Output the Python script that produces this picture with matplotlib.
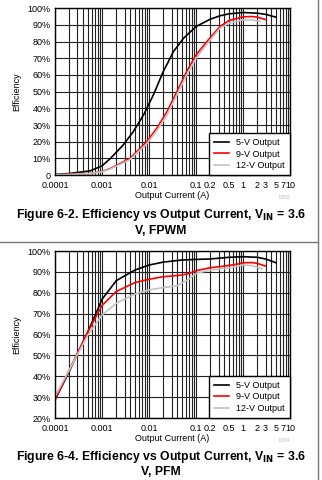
import matplotlib
matplotlib.use("Agg")
import matplotlib.pyplot as plt
from matplotlib.lines import Line2D
import numpy as np

plt.rcParams['font.family'] = ['Liberation Sans', 'DejaVu Sans']

# FPWM (Figure 6-2) - current in A, efficiency in %
fpwm_5v_i = [0.0001, 0.0002, 0.00056, 0.001, 0.0015, 0.0028, 0.0046, 0.0076, 0.0123, 0.02, 0.033,
             0.054, 0.1, 0.2, 0.32, 0.5, 1, 2, 3, 5]
fpwm_5v = [0.5, 1.0, 2.6, 5.6, 10, 18, 26, 36, 48, 62, 74, 82, 89, 93.4, 95.4, 96.6, 97.4, 97, 96.3, 94.6]
fpwm_9v_i = [0.0001, 0.0002, 0.00056, 0.001, 0.0015, 0.0039, 0.0089, 0.0145, 0.024, 0.039, 0.063,
             0.1, 0.17, 0.32, 0.5, 1, 1.5, 2, 3]
fpwm_9v = [0.3, 0.5, 1.0, 2.3, 4, 10, 20, 28, 38, 50, 62, 72, 80, 89, 92.6, 94.8, 95, 94.6, 93.2]
fpwm_12v_i = [0.0001, 0.0002, 0.00056, 0.001, 0.0015, 0.0039, 0.0089, 0.0145, 0.024, 0.039, 0.063,
              0.1, 0.17, 0.32, 0.5, 1, 1.5, 2.3]
fpwm_12v = [0.3, 0.5, 0.9, 2.1, 3.7, 9.3, 18.8, 26.5, 36, 48, 60, 70, 78.5, 88, 91, 93, 93, 92.2]

# PFM (Figure 6-4)
pfm_5v_i = [0.0001, 0.0002, 0.0005, 0.001, 0.002, 0.005, 0.01, 0.02, 0.05, 0.1, 0.2, 0.5, 1, 2, 3, 5]
pfm_5v = [28.8, 42.3, 61.4, 76.9, 85.8, 90.9, 93.3, 94.7, 95.7, 96, 96.2, 97, 97.3, 97, 96.2, 94.4]
pfm_9v_i = [0.0001, 0.0002, 0.0005, 0.001, 0.002, 0.005, 0.01, 0.02, 0.05, 0.07, 0.1, 0.2, 0.5, 0.7, 1, 1.5, 2, 3]
pfm_9v = [28.8, 43, 61.4, 74, 80.6, 84.9, 86.5, 87.7, 88.5, 89.2, 90.6, 92, 93.1, 93.6, 94.4, 94.5, 94.1, 92.8]
pfm_12v_i = [0.0001, 0.0002, 0.0005, 0.001, 0.002, 0.005, 0.01, 0.02, 0.04, 0.07, 0.1, 0.2, 0.5, 1, 1.5, 2, 2.5]
pfm_12v = [30.4, 43, 59.8, 69.4, 75, 79.4, 81.4, 82.5, 83.4, 86.5, 89.3, 90.9, 91.9, 93.3, 93.1, 92.2, 91.4]

xticks = [0.0001, 0.001, 0.01, 0.1, 0.2, 0.5, 1, 2, 3, 5, 7, 10]
xtick_labels = ['0.0001', '0.001', '0.01', '0.1', '0.2', '0.5', '1', '2', '3', '5', '7', '10']
labels = ['5-V Output', '9-V Output', '12-V Output']
colors = ['black', '#ff0000', '#c4c4c4']

fig = plt.figure(figsize=(3.22, 4.8), dpi=100)


def setup(ax, ymin, code):
    ax.set_xscale('log')
    ax.set_xlim(0.0001, 10)
    ax.set_ylim(ymin, 100)
    ax.set_xticks(xticks)
    ax.set_xticklabels(xtick_labels)
    ax.xaxis.set_minor_locator(matplotlib.ticker.LogLocator(base=10, subs=np.arange(2, 10)))
    ax.xaxis.set_minor_formatter(matplotlib.ticker.NullFormatter())
    yt = np.arange(ymin, 101, 10)
    ax.set_yticks(yt)
    ax.set_yticklabels(['0' if v == 0 else '%d%%' % v for v in yt])
    ax.grid(True, which='both', axis='x', color='#222222', lw=0.8)
    ax.grid(True, which='major', axis='y', color='#222222', lw=0.8)
    ax.tick_params(which='both', length=0, labelsize=6.5)
    ax.tick_params(axis='x', pad=4)
    ax.tick_params(axis='y', pad=3)
    for s in ax.spines.values():
        s.set_linewidth(1.0)
    ax.set_xlabel('Output Current (A)', fontsize=6.5, labelpad=1)
    ax.set_ylabel('Efficiency', fontsize=6.5, labelpad=5)
    ax.text(1.0, -0.12, code, transform=ax.transAxes, fontsize=3.5, color='#bbbbbb',
            ha='right', va='top')


ax1 = fig.add_axes([0.171, 0.635, 0.730, 0.348])
setup(ax1, 0, 'D002')
ax1.plot(fpwm_5v_i, fpwm_5v, color=colors[0], lw=1.2, label=labels[0])
ax1.plot(fpwm_9v_i, fpwm_9v, color=colors[1], lw=1.2, label=labels[1])
ax1.plot(fpwm_12v_i, fpwm_12v, color=colors[2], lw=1.2, label=labels[2])

ax2 = fig.add_axes([0.171, 0.129, 0.730, 0.348])
setup(ax2, 20, 'D004')
ax2.plot(pfm_5v_i, pfm_5v, color=colors[0], lw=1.2, label=labels[0])
ax2.plot(pfm_9v_i, pfm_9v, color=colors[1], lw=1.2, label=labels[1])
ax2.plot(pfm_12v_i, pfm_12v, color=colors[2], lw=1.2, label=labels[2])

for ax in (ax1, ax2):
    leg = ax.legend(loc='lower right', fontsize=6.5, frameon=True, fancybox=False,
                    borderaxespad=0, handlelength=1.6, handletextpad=0.8,
                    labelspacing=0.25, borderpad=0.6, framealpha=1)
    leg.get_frame().set_edgecolor('black')
    leg.get_frame().set_linewidth(1.0)

fig.text(0.5, 0.5375, 'Figure 6-2. Efficiency vs Output Current, V$_{\\mathbf{IN}}$ = 3.6\nV, FPWM',
         ha='center', va='center', fontsize=8.8, fontweight='bold', linespacing=1.15)
fig.text(0.5, 0.035, 'Figure 6-4. Efficiency vs Output Current, V$_{\\mathbf{IN}}$ = 3.6\nV, PFM',
         ha='center', va='center', fontsize=8.8, fontweight='bold', linespacing=1.15)

# page frame lines
fig.add_artist(Line2D([0, 0.987], [1 - 242 / 480, 1 - 242 / 480], color='#777777', lw=1.0))
fig.add_artist(Line2D([0.987, 0.987], [0, 1], color='#777777', lw=1.0))

fig.savefig('out.png', dpi=100)
